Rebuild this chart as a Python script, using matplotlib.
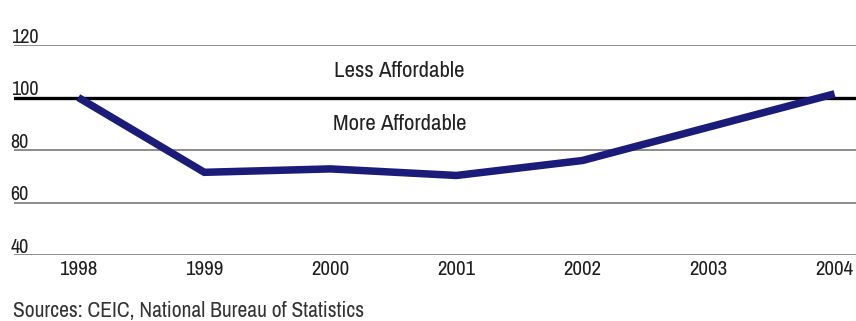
import matplotlib
matplotlib.use("Agg")
import matplotlib.pyplot as plt
from matplotlib import font_manager

years = [1998, 1999, 2000, 2001, 2002, 2003, 2004]
index_values = [100.0, 71.5, 72.8, 70.3, 76.0, 88.7, 101.4]
y_ticks = [40, 60, 80, 100, 120]
source_note = "Sources: CEIC, National Bureau of Statistics"

names = {f.name for f in font_manager.fontManager.ttflist}
narrow = "Archivo Narrow" if "Archivo Narrow" in names else "DejaVu Sans"
plt.rcParams["font.family"] = [narrow, "DejaVu Sans"]

fig = plt.figure(figsize=(8.56, 3.21), dpi=100)
ax = fig.add_axes([14 / 856, 1 - 255 / 321, 1 - 14 / 856, 210 / 321])
ax.set_xlim(1997.49, 2004.17)
ax.set_ylim(40, 120)
ax.axis("off")

# grid lines with labels sitting on top of them
for t in y_ticks:
    if t == 100:
        ax.axhline(t, color="black", lw=2.4, zorder=2)
    else:
        ax.axhline(t, color="#6d6d6d", lw=1.1, zorder=1)
    ax.text(-0.004, t + 0.9, str(t), transform=ax.get_yaxis_transform(),
            ha="left", va="baseline", fontsize=14.5, color="#1e1e1e")

ax.plot(years, index_values, color="#1b1b7a", lw=5.4, solid_joinstyle="miter",
        solid_capstyle="butt", zorder=3, clip_on=False)

for yr in years:
    ax.text(yr, 38.0, str(yr), ha="center", va="top", fontsize=15, color="#1e1e1e")

ax.text(2000.55, 110, "Less Affordable", ha="center", va="center", fontsize=16.5,
        color="#222222")
ax.text(2000.55, 90, "More Affordable", ha="center", va="center", fontsize=16.5,
        color="#222222")

fig.text(13 / 856, 1 - 311 / 321, source_note, ha="left", va="center",
         fontsize=15.5, color="#333333")

fig.savefig("out.png", dpi=100)
